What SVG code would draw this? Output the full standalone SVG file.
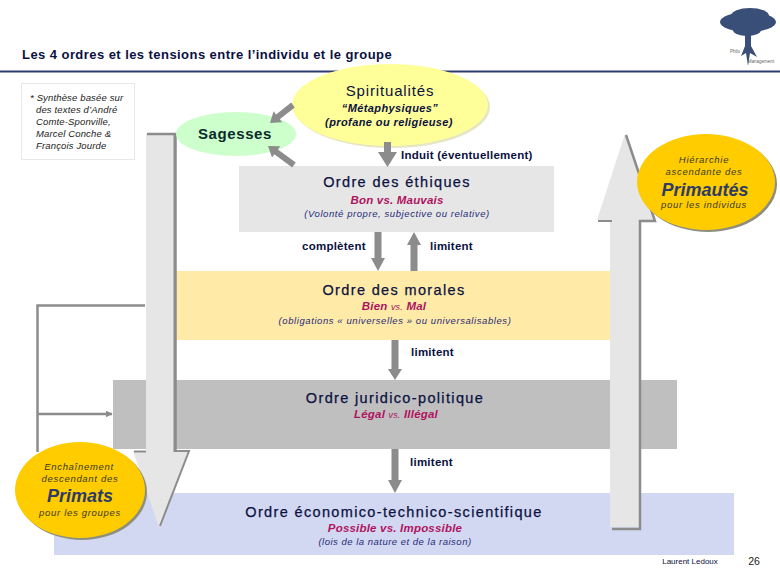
<svg xmlns="http://www.w3.org/2000/svg" width="780" height="576" viewBox="0 0 780 576">
<style>
text{font-family:"Liberation Sans",Arial,sans-serif;fill:#0b1140;text-anchor:middle}
.h{font-size:14.5px;letter-spacing:1.35px;stroke:#0b1140;stroke-width:.25px}
.r{font-size:11.5px;font-style:italic;font-weight:bold;fill:#b0125f;letter-spacing:.2px}
.s{font-size:9.5px;font-style:italic;fill:#1f2a78;letter-spacing:.58px}
.l{font-size:11.5px;font-weight:bold;fill:#0b1140;text-anchor:start;letter-spacing:.25px}
.n{font-size:9.5px;font-style:italic;fill:#222;text-anchor:start;letter-spacing:.15px}
.o{font-size:9.5px;font-style:italic;fill:#3a3a20;letter-spacing:.7px}
.big{font-size:18px;font-style:italic;font-weight:bold;fill:#2e3b66}
.gr{fill:#8c8c8c;stroke:none}
.ln{fill:none;stroke:#8c8c8c;stroke-width:2.500}
</style>
<defs>
<marker id="a" viewBox="0 0 10 10" refX="9" refY="5" markerWidth="7" markerHeight="7" markerUnits="userSpaceOnUse" orient="auto"><path d="M0 0L10 5L0 10z" fill="#8c8c8c"/></marker>
</defs>
<g id="header">
<text x="22" y="59" style="font-size:13px;font-weight:bold;text-anchor:start;fill:#0b1140;letter-spacing:.44px">Les 4 ordres et les tensions entre l’individu et le groupe</text>
<rect x="0" y="70.500" width="780" height="2" fill="#2e3b6e"/>
</g>
<g id="logo">
<g fill="#3a4f78">
<ellipse cx="748" cy="22" rx="28" ry="10"/>
<ellipse cx="750" cy="16" rx="19" ry="8"/>
<ellipse cx="747" cy="30" rx="14" ry="6"/>
<path d="M745 33L751 33L751 46L757 57L750 53L748 66L746 53L741 56L745 46z"/>
</g>
<text x="735" y="53" style="font-size:4.500px;fill:#666">Philo</text>
<text x="761" y="63" style="font-size:4.500px;fill:#666">Management</text>
</g>
<g id="note">
<rect x="21.500" y="83.500" width="113" height="76" fill="#fff" stroke="#e8e8e8"/>
<text class="n" x="30" y="101">* Synthèse basée sur</text>
<text class="n" x="36" y="113">des textes d’André</text>
<text class="n" x="36" y="125">Comte-Sponville,</text>
<text class="n" x="36" y="137">Marcel Conche &amp;</text>
<text class="n" x="36" y="149">François Jourde</text>
</g>
<g id="ordre-economique">
<rect x="54" y="493" width="680" height="62" fill="#d2d8f2"/>
<text class="h" x="394" y="517">Ordre économico-technico-scientifique</text>
<text class="r" x="395" y="532">Possible vs. Impossible</text>
<text class="s" x="395" y="545" style="letter-spacing:.5px">(lois de la nature et de la raison)</text>
</g>
<g id="ordre-juridique">
<rect x="113" y="380" width="564" height="69" fill="#bfbfbf"/>
<text class="h" x="395" y="403">Ordre juridico-politique</text>
<text class="r" x="396" y="418">Légal <tspan font-size="9" font-weight="normal">vs.</tspan> Illégal</text>
</g>
<g id="ordre-morales">
<rect x="175" y="271" width="435" height="69" fill="#ffeaa8"/>
<text class="h" x="394" y="295">Ordre des morales</text>
<text class="r" x="394" y="310">Bien <tspan font-size="9" font-weight="normal">vs.</tspan> Mal</text>
<text class="s" x="395" y="324">(obligations « universelles » ou universalisables)</text>
</g>
<g id="ordre-ethiques">
<rect x="239" y="166" width="315" height="66" fill="#e6e6e6"/>
<text class="h" x="397" y="187">Ordre des éthiques</text>
<text class="r" x="397" y="204">Bon vs. Mauvais</text>
<text class="s" x="397" y="217">(Volonté propre, subjective ou relative)</text>
</g>
<g id="fleche-descendante">
<path d="M175 134H146V451H133L159 527L188 451H175z" fill="#e6e6e6"/>
<path d="M174.500 134V451H189L160 526" fill="none" stroke="#8c8c8c" stroke-width="2"/>
<path d="M147 134H175.500V451" fill="none" stroke="#8c8c8c" stroke-width="2.500"/>
<path d="M134 451.500H146" stroke="#8c8c8c" stroke-width="2"/>
</g>
<g id="fleche-ascendante">
<path d="M610 527V220H597L625 134L655 220H640V527z" fill="#e6e6e6"/>
<path d="M612 529H640V221H655L626 135" fill="none" stroke="#8c8c8c" stroke-width="2.500"/>
<path d="M598 221H612" stroke="#8c8c8c" stroke-width="2"/>
</g>
<g id="sagesses">
<ellipse cx="236" cy="134" rx="60" ry="22" fill="#ccffcc"/>
<text x="235" y="139" style="font-size:15px;letter-spacing:.6px;fill:#0b2a2a;font-weight:bold">Sagesses</text>
</g>
<g id="spiritualites">
<ellipse cx="392" cy="107" rx="98" ry="41" fill="#e6e6c4"/>
<ellipse cx="390" cy="105" rx="98" ry="41" fill="#ffff99"/>
<text x="390" y="96" style="font-size:15px;letter-spacing:.85px">Spiritualités</text>
<text x="390" y="112" style="font-size:11px;font-style:italic;font-weight:bold;letter-spacing:.4px">“Métaphysiques”</text>
<text x="389" y="126" style="font-size:11px;font-style:italic;font-weight:bold;letter-spacing:.4px">(profane ou religieuse)</text>
</g>
<g id="primautes">
<ellipse cx="708" cy="184" rx="69" ry="48" fill="#8f8f80"/>
<ellipse cx="706" cy="182" rx="69" ry="48" fill="#ffcc00"/>
<text class="o" x="704" y="163">Hiérarchie</text>
<text class="o" x="704" y="175">ascendante des</text>
<text class="big" x="705" y="196">Primautés</text>
<text class="o" x="704" y="208">pour les individus</text>
</g>
<g id="primats">
<ellipse cx="82" cy="492" rx="65" ry="48" fill="#8f8f80"/>
<ellipse cx="80" cy="490" rx="65" ry="48" fill="#ffcc00"/>
<text class="o" x="79" y="470">Enchaînement</text>
<text class="o" x="80" y="482">descendant des</text>
<text class="big" x="80" y="502">Primats</text>
<text class="o" x="80" y="516">pour les groupes</text>
</g>
<g id="connectors">
<path class="ln" d="M145 305.500H37.500V452"/>
<path class="ln" d="M37.500 414H112" marker-end="url(#a)"/>
<path class="gr" d="M384 142H391V152H397L387.500 167L378 152H384z"/>
<path class="gr" d="M374.500 232H381.500V258H385L378 271L371 258H374.500z"/>
<path class="gr" d="M410.500 271H417.500V245H421L414 232L407 245H410.500z"/>
<path class="gr" d="M391.500 340H398.500V369H402L395 380L388 369H391.500z"/>
<path class="gr" d="M391.500 449H398.500V480H402L395 493L388 480H391.500z"/>
<path class="gr" d="M291.200 102.600L294.800 107.400L279.700 119.200L282.200 122.300L270 123L273.600 111.300L276.100 114.400z"/>
<path class="gr" d="M295.800 162.600L277.900 149.500L280.200 146.300L268 146L272 157.500L274.300 154.300L292.200 167.400z"/>
</g>
<g id="labels">
<text class="l" x="401" y="159">Induit (éventuellement)</text>
<text class="l" x="302" y="250">complètent</text>
<text class="l" x="430" y="250">limitent</text>
<text class="l" x="411" y="356">limitent</text>
<text class="l" x="410" y="466">limitent</text>
<text x="690" y="564" style="font-size:8px">Laurent Ledoux</text>
<text x="754" y="565" style="font-size:10.500px;fill:#222">26</text>
</g>
</svg>
